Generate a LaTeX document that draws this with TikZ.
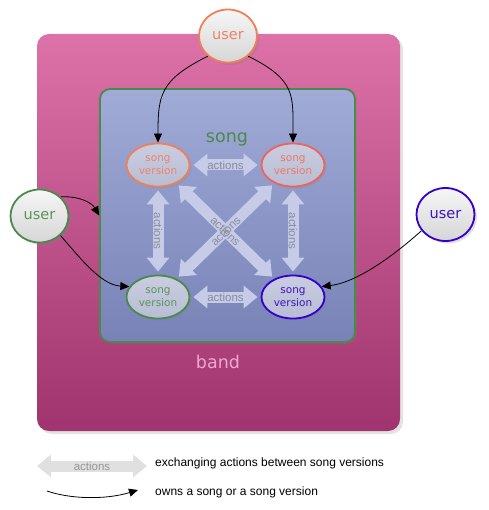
\documentclass[tikz,border=0pt]{standalone}
\usepackage{fontspec}
\setmainfont{DejaVu Sans}
\newfontfamily\arialf{Liberation Sans}
\usetikzlibrary{shapes.geometric,arrows.meta,shadows}
\definecolor{bandtop}{RGB}{220,114,168}
\definecolor{bandbot}{RGB}{160,52,110}
\definecolor{songtop}{RGB}{160,171,215}
\definecolor{songbot}{RGB}{120,130,182}
\definecolor{greenB}{RGB}{74,138,74}
\definecolor{greenT}{RGB}{88,150,88}
\definecolor{orangeB}{RGB}{240,128,85}
\definecolor{orangeT}{RGB}{240,130,100}
\definecolor{redB}{RGB}{238,100,90}
\definecolor{redT}{RGB}{240,120,100}
\definecolor{blueB}{RGB}{51,0,204}
\definecolor{blueT}{RGB}{60,20,190}
\definecolor{svtop}{RGB}{202,205,224}
\definecolor{svbot}{RGB}{184,189,212}
\definecolor{usertop}{RGB}{246,246,246}
\definecolor{userbot}{RGB}{214,214,214}
\definecolor{actcol}{RGB}{198,203,232}
\definecolor{acttext}{RGB}{138,140,156}
\definecolor{legcol}{RGB}{224,224,224}
\definecolor{legtext}{RGB}{150,150,150}
\definecolor{bandtext}{RGB}{240,165,210}
\begin{document}
\begin{tikzpicture}[x=1pt,y=-1pt,
  bandbox/.style={rounded corners=12pt, top color=bandtop, bottom color=bandbot,
    minimum width=363pt, minimum height=397pt, inner sep=0,
    drop shadow={opacity=0.22, shadow xshift=3pt, shadow yshift=-3pt}},
  songbox/.style={draw=greenB, line width=1.8pt, rounded corners=10pt,
    top color=songtop, bottom color=songbot,
    minimum width=255pt, minimum height=253pt, inner sep=0,
    drop shadow={opacity=0.2, shadow xshift=2pt, shadow yshift=-2pt}},
  usernode/.style={ellipse, line width=1.8pt, top color=usertop, bottom color=userbot,
    minimum width=58pt, minimum height=53pt, inner sep=0,
    font=\fontsize{14.5}{14.5}\selectfont,
    drop shadow={opacity=0.25, shadow xshift=2.5pt, shadow yshift=-2.5pt}},
  svnode/.style={ellipse, line width=1.8pt, top color=svtop, bottom color=svbot,
    minimum width=63pt, minimum height=43pt, inner sep=0, align=center,
    font=\fontsize{10.5}{13}\selectfont,
    drop shadow={opacity=0.2, shadow xshift=2pt, shadow yshift=-2pt}},
  actarrow/.style={draw=actcol, line width=11pt,
    {Triangle[width=22pt,length=14pt]}-{Triangle[width=22pt,length=14pt]},
    shorten <=3pt, shorten >=3pt},
  actlabel/.style={font=\arialf\fontsize{11.5}{11.5}\selectfont, text=acttext, inner sep=0},
  own/.style={draw=black, line width=0.8pt, -{Triangle[length=9pt,width=8pt]}},
  legendtext/.style={font=\arialf\fontsize{12}{12}\selectfont, anchor=west, inner sep=0}
]
\useasboundingbox (0,0) rectangle (488,510);

% containers
\node[bandbox] (band) at (218.5,232.5) {};
\node[songbox] (song) at (227.5,215.5) {};
\node[text=bandtext, font=\fontsize{17.5}{17.5}\selectfont] (bandlbl) at (218,362) {band};
\node[text=greenB, font=\fontsize{17.5}{17.5}\selectfont] (songlbl) at (227,139) {song};

% song versions
\node[svnode, draw=orangeB, text=orangeT] (tl) at (158,165) {song\\version};
\node[svnode, draw=redB, text=redT] (tr) at (293,165) {song\\version};
\node[svnode, draw=greenB, text=greenT] (bl) at (158,297) {song\\version};
\node[svnode, draw=blueB, text=blueT] (br) at (293,297) {song\\version};

% users
\node[usernode, draw=orangeB, text=orangeT] (utop) at (228,36) {user};
\node[usernode, draw=greenB, text=greenT] (uleft) at (39.5,216) {user};
\node[usernode, draw=blueB, text=blueT] (uright) at (445.5,214.5) {user};

% action arrows
\draw[actarrow] (tl) -- (tr);
\draw[actarrow] (bl) -- (br);
\draw[actarrow] (tl) -- (bl);
\draw[actarrow] (tr) -- (br);
\draw[actarrow] (tl) -- (br);
\draw[actarrow] (tr) -- (bl);
\path (tl) -- node[actlabel] {actions} (tr);
\path (bl) -- node[actlabel] {actions} (br);
\path (tl) -- node[actlabel, rotate=-90] {actions} (bl);
\path (tr) -- node[actlabel, rotate=-90] {actions} (br);
\path (tl) -- node[actlabel, sloped] {actions} (br);
\path (bl) -- node[actlabel, sloped] {actions} (tr);

% ownership connectors
\draw[own] (utop.225) .. controls (160,80) and (158,95) .. (tl.north);
\draw[own] (utop.-45) .. controls (296,80) and (293,95) .. (tr.north);
\draw[own] (uleft.42) .. controls (80,196) and (92,203) .. (song.west);
\draw[own] (uleft.-43) .. controls (78,255) and (100,285) .. (bl.160);
\draw[own] (uright.214) .. controls (400,250) and (360,282) .. (br.20);

% legend
\coordinate (la1) at (37,466);
\coordinate (la2) at (147,466);
\draw[draw=legcol, line width=11pt,
  {Triangle[width=22pt,length=14pt]}-{Triangle[width=22pt,length=14pt]}] (la1) -- (la2);
\path (la1) -- node[font=\arialf\fontsize{11.5}{11.5}\selectfont, text=legtext] {actions} (la2);
\node[legendtext] (lt1) at (155,463) {exchanging actions between song versions};
\coordinate (lo1) at (47,491);
\coordinate (lo2) at (138,490);
\draw[own] (lo1) .. controls (70,499) and (105,500) .. (lo2);
\node[legendtext] (lt2) at (155,492) {owns a song or a song version};
\end{tikzpicture}
\end{document}
